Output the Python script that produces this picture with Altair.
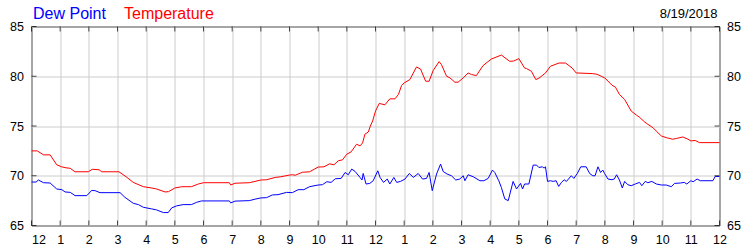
import altair as alt
import pandas as pd

# ---------------- data ----------------
TEMP_HOURS = [0.0, 0.2, 0.42, 0.65, 0.88, 1.05, 1.2, 1.35, 1.52, 1.98, 2.12, 2.36, 2.45, 3.05,
              3.3, 3.55, 3.9, 4.19, 4.36, 4.66, 4.78, 5.0, 5.24, 5.58, 5.82, 6.0, 6.9, 6.95,
              7.1, 7.6, 8.0, 8.2, 8.5, 8.7, 9.0, 9.1, 9.2, 9.45, 9.7, 10.0, 10.2, 10.4, 10.55,
              10.7, 10.85, 11.0, 11.15, 11.34, 11.46, 11.55, 11.63, 11.75, 11.82, 11.9, 12.0,
              12.13, 12.33, 12.5, 12.68, 12.8, 12.91, 13.0, 13.2, 13.43, 13.57, 13.75, 13.87,
              14.01, 14.22, 14.3, 14.48, 14.6, 14.77, 14.88, 15.06, 15.23, 15.35, 15.52, 15.75,
              16.04, 16.39, 16.68, 16.82, 17.0, 17.2, 17.27, 17.44, 17.59, 17.7, 17.93, 18.1,
              18.4, 18.63, 18.86, 19.0, 19.56, 19.73, 20.0, 20.25, 20.37, 20.51, 20.69, 20.92,
              21.1, 21.2, 21.39, 21.5, 21.68, 21.79, 21.97, 22.14, 22.37, 22.5, 22.72, 22.9,
              23.0, 23.15, 23.3, 24.0]
TEMP_VALUES = [72.5, 72.5, 72.1, 72.1, 71.1, 70.9, 70.8, 70.75, 70.4, 70.4, 70.65, 70.6, 70.4, 70.4,
               69.9, 69.33, 68.9, 68.77, 68.67, 68.37, 68.4, 68.77, 68.9, 68.9, 69.17, 69.3, 69.3, 69.07,
               69.25, 69.3, 69.57, 69.6, 69.83, 69.9, 70.07, 70.1, 70.05, 70.35, 70.4, 70.87, 70.9, 71.2, 71.1,
               71.5, 71.6, 72.17, 72.4, 73.17, 73.0, 73.3, 74.17, 74.4, 75.0, 75.5, 76.5,
               77.27, 77.13, 77.73, 77.73, 78.17, 79.07, 79.33, 79.67, 80.93, 80.73, 79.5, 79.5,
               80.57, 81.47, 81.17, 80.0, 79.83, 79.4, 79.4, 79.83, 80.33, 80.17, 80.07, 81.07,
               81.73, 82.13, 81.5, 81.53, 81.77, 80.83, 80.77, 80.5, 79.67, 79.8, 80.33, 81.0,
               81.33, 81.33, 80.83, 80.33, 80.27, 80.2, 79.83, 79.1, 78.9, 78.17, 77.67, 76.5,
               76.1, 75.9, 75.4, 75.17, 74.83, 74.5, 74.0, 73.83, 73.67, 73.75, 73.9, 73.67,
               73.5, 73.55, 73.33, 73.33]

DEW_HOURS = [0.0, 0.16, 0.24, 0.42, 0.65, 0.88, 1.06, 1.17, 1.35, 1.52, 1.93, 2.1, 2.22, 2.39, 3.09,
             3.26, 3.55, 3.73, 3.9, 4.19, 4.36, 4.6, 4.77, 4.89, 5.06, 5.29, 5.58, 5.76, 5.93, 6.9,
             6.95, 7.1, 7.6, 7.8, 8.0, 8.2, 8.4, 8.6, 8.9, 9.1, 9.3, 9.5, 9.7, 10.0, 10.15, 10.3,
             10.45, 10.6, 10.8, 10.94, 11.05, 11.17, 11.29, 11.46, 11.53, 11.57, 11.67, 11.8, 11.92,
             12.08, 12.16, 12.28, 12.41, 12.5, 12.64, 12.74, 12.87, 13.03, 13.18, 13.32, 13.49,
             13.64, 13.78, 13.87, 13.98, 14.13, 14.27, 14.36, 14.5, 14.65, 14.8, 14.94, 15.06,
             15.12, 15.23, 15.41, 15.64, 15.78, 15.93, 16.08, 16.16, 16.3, 16.39, 16.51, 16.63,
             16.8, 16.92, 17.06, 17.13, 17.2, 17.35, 17.5, 17.62, 17.7, 17.82, 17.88, 17.93, 18.0,
             18.1, 18.2, 18.3, 18.39, 18.48, 18.58, 18.66, 18.83, 18.92, 19.04, 19.16, 19.35,
             19.47, 19.58, 19.66, 19.76, 19.85, 19.93, 19.99, 20.11, 20.25, 20.33, 20.41, 20.51,
             20.61, 20.69, 20.8, 20.92, 21.06, 21.21, 21.29, 21.41, 21.5, 21.64, 21.8, 21.97,
             22.14, 22.32, 22.43, 22.64, 22.77, 22.86, 23.0, 23.08, 23.22, 23.33, 23.77, 23.85, 24.0]
DEW_VALUES = [69.37, 69.37, 69.57, 69.3, 69.27, 68.67, 68.6, 68.37, 68.33, 68.0, 68.0, 68.53, 68.5, 68.3, 68.3,
              67.83, 67.23, 67.1, 66.83, 66.67, 66.57, 66.3, 66.3, 66.77, 66.97, 67.1, 67.1, 67.33, 67.47, 67.47,
              67.27, 67.45, 67.5, 67.65, 67.77, 67.8, 68.07, 68.1, 68.33, 68.3, 68.6, 68.6, 68.9, 69.07, 69.1, 69.4,
              69.33, 69.7, 69.73, 70.33, 70.1, 70.67, 70.43, 69.83, 69.57, 70.23, 69.17, 69.23, 69.5,
              70.5, 69.83, 69.33, 69.67, 69.17, 69.83, 69.33, 69.43, 69.67, 70.23, 69.83, 70.23,
              69.67, 69.73, 70.33, 68.5, 70.17, 71.17, 70.43, 70.17, 70.0, 69.57, 69.67, 70.0,
              69.5, 70.1, 69.9, 69.5, 69.5, 69.73, 70.57, 70.33, 69.5, 68.83, 67.67, 67.5,
              69.43, 68.67, 69.23, 68.67, 69.17, 69.17, 71.07, 71.07, 70.83, 70.9, 70.77, 70.9, 69.43,
              69.5, 69.43, 69.5, 68.93, 69.3, 69.6, 69.43, 70.0, 69.73, 70.23, 70.9, 70.9,
              70.23, 70.0, 70.0, 70.9, 70.33, 70.57, 70.23, 69.67, 69.6, 69.67, 70.1, 69.57,
              68.77, 69.43, 69.1, 69.0, 69.17, 69.33, 69.0, 69.43, 69.3, 69.43, 69.17, 69.07,
              69.07, 68.9, 69.23, 69.27, 69.33, 69.17, 69.5, 69.4, 69.67, 69.5, 69.5, 69.93, 69.93]

HOUR_TICKS = list(range(0, 25))
Y_TICKS = [65, 70, 75, 80, 85]
SERIES_NAMES = ["Dew Point", "Temperature"]
DATE_LABEL = "8/19/2018"

FONT = "Liberation Sans"
W, H = 688, 199

temp_df = pd.DataFrame({"hour": TEMP_HOURS, "value": TEMP_VALUES})
dew_df = pd.DataFrame({"hour": DEW_HOURS, "value": DEW_VALUES})
hour_df = pd.DataFrame({"hour": HOUR_TICKS})
ytick_df = pd.DataFrame({"value": Y_TICKS})

x_scale = alt.Scale(domain=[0, 24], nice=False, zero=False)
y_scale = alt.Scale(domain=[65, 85], nice=False, zero=False)

x_axis = alt.Axis(
    values=HOUR_TICKS,
    labelExpr="datum.value % 12 == 0 ? '12' : '' + (datum.value % 12)",
    grid=True, gridColor="#cccccc", gridWidth=1,
    ticks=False, domain=False, title=None,
    labelFont=FONT, labelFontSize=12.5, labelColor="black",
    labelPadding=8, labelFlush=False, labelOverlap=False,
    labelAlign={"condition": {"test": "datum.value == 0", "value": "left"},
                "value": "center"},
)
left_axis = alt.Axis(
    values=Y_TICKS, orient="left", grid=True, gridColor="#cccccc", gridWidth=1,
    ticks=False, domain=False, title=None,
    labelFont=FONT, labelFontSize=12.5, labelColor="black", labelPadding=8,
)
right_axis = alt.Axis(
    values=Y_TICKS, orient="right", grid=False,
    ticks=False, domain=False, title=None,
    labelFont=FONT, labelFontSize=12.5, labelColor="black", labelPadding=7,
)

temp_line = alt.Chart(temp_df).mark_line(color="#ff0000", strokeWidth=1).encode(
    x=alt.X("hour:Q", scale=x_scale, axis=x_axis),
    y=alt.Y("value:Q", scale=y_scale, axis=left_axis),
)
dew_line = alt.Chart(dew_df).mark_line(color="#0000ff", strokeWidth=1).encode(
    x=alt.X("hour:Q", scale=x_scale, axis=x_axis),
    y=alt.Y("value:Q", scale=y_scale, axis=right_axis),
)

top_ticks = alt.Chart(hour_df).mark_tick(orient="vertical", size=5, thickness=1, color="black").encode(
    x=alt.X("hour:Q", scale=x_scale, axis=x_axis), y=alt.value(2.5))
bottom_ticks = alt.Chart(hour_df).mark_tick(orient="vertical", size=5, thickness=1, color="black").encode(
    x=alt.X("hour:Q", scale=x_scale, axis=x_axis), y=alt.value(H - 2.5))
left_ticks = alt.Chart(ytick_df).mark_tick(orient="horizontal", size=5, thickness=1, color="black").encode(
    y=alt.Y("value:Q", scale=y_scale, axis=None), x=alt.value(2.5))
right_ticks = alt.Chart(ytick_df).mark_tick(orient="horizontal", size=5, thickness=1, color="black").encode(
    y=alt.Y("value:Q", scale=y_scale, axis=None), x=alt.value(W - 2.5))

dew_title = alt.Chart(pd.DataFrame({"t": [SERIES_NAMES[0]]})).mark_text(
    align="left", baseline="alphabetic", font=FONT, fontSize=16, color="#0000ff"
).encode(text="t:N", x=alt.value(1.5), y=alt.value(-8))
temp_title = alt.Chart(pd.DataFrame({"t": [SERIES_NAMES[1]]})).mark_text(
    align="left", baseline="alphabetic", font=FONT, fontSize=16, color="#ff0000"
).encode(text="t:N", x=alt.value(92.5), y=alt.value(-8))
date_title = alt.Chart(pd.DataFrame({"t": [DATE_LABEL]})).mark_text(
    align="right", baseline="alphabetic", font=FONT, fontSize=13, color="black"
).encode(text="t:N", x=alt.value(686), y=alt.value(-9))

chart = alt.layer(
    temp_line, dew_line, top_ticks, bottom_ticks, left_ticks, right_ticks,
    dew_title, temp_title, date_title,
).resolve_axis(y="independent").properties(
    width=W, height=H,
    autosize=alt.AutoSizeParams(type="none"),
    padding={"left": 31.5, "top": 26.5, "right": 30.5, "bottom": 24.5},
    background="white",
).configure_view(stroke="black", strokeWidth=1)

chart.save("out.html", embed_options={"renderer": "svg", "actions": False})
